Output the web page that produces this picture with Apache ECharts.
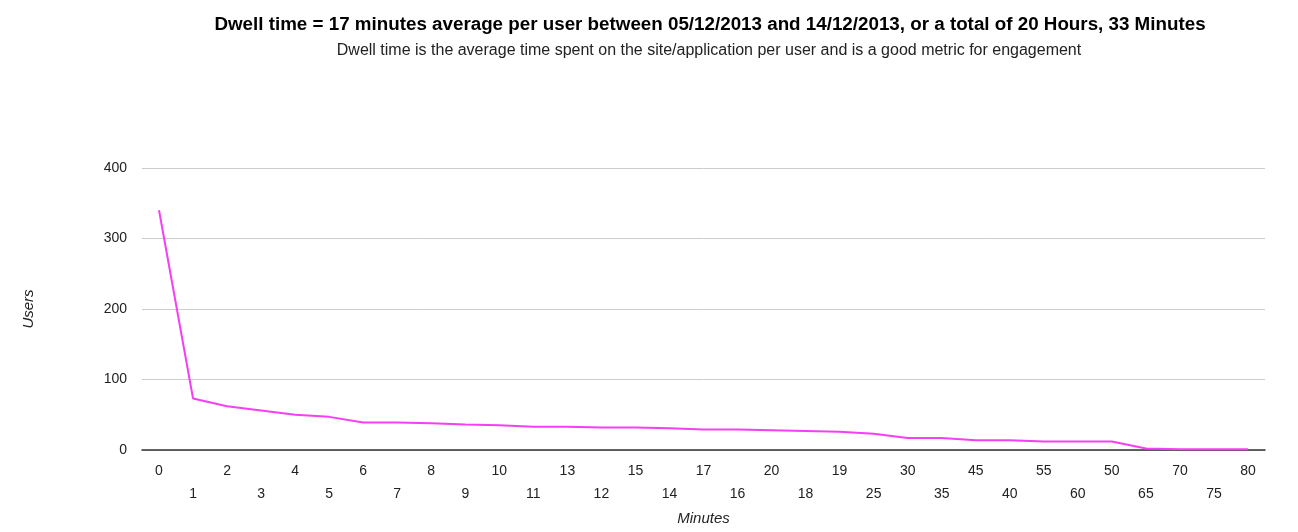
<!DOCTYPE html>
<html>
<head>
<meta charset="utf-8">
<script src="https://cdn.jsdelivr.net/npm/echarts@6/dist/echarts.min.js"></script>
<style>html,body{margin:0;padding:0;background:#fff}#c{width:1298px;height:532px}</style>
</head>
<body>
<div id="c"></div>
<script>
const titleText = 'Dwell time = 17 minutes average per user between 05/12/2013 and 14/12/2013, or a total of 20 Hours, 33 Minutes';
const subtitleText = 'Dwell time is the average time spent on the site/application per user and is a good metric for engagement';
const categories = ['0','1','2','3','4','5','6','7','8','9','10','11','13','12','15','14','17','16','20','18','19','25','30','35','45','40','55','60','50','65','70','75','80'];
const users = [340,73,62,56,50,47,39,39,38,36,35,33,33,32,32,31,29,29,28,27,26,23,17,17,14,14,12,12,12,2,1,1,1];
const yTicks = [0,100,200,300,400];

const chart = echarts.init(document.getElementById('c'));
chart.setOption({
  animation: false,
  textStyle: {fontFamily: 'Liberation Sans, Arial, sans-serif'},
  title: [
    {text: titleText, left: 705, textAlign: 'center', top: 10,
     textStyle: {fontSize: 18.8, fontWeight: 'bold', color: '#000'}},
    {text: subtitleText, left: 704, textAlign: 'center', top: 38,
     textStyle: {fontSize: 16, fontWeight: 'normal', color: '#222'}}
  ],
  grid: {left: 142, right: 33, top: 168, bottom: 82},
  xAxis: {
    type: 'category', data: categories, boundaryGap: true,
    name: 'Minutes', nameLocation: 'middle', nameGap: 60,
    nameTextStyle: {fontStyle: 'italic', fontSize: 15, color: '#222'},
    axisLine: {lineStyle: {color: '#333', width: 1.5}},
    axisTick: {show: false},
    axisLabel: {interval: 0, fontSize: 14, color: '#222', margin: 10, lineHeight: 23,
      formatter: (v, i) => (i % 2 === 1 ? '\n' + v : v)}
  },
  yAxis: {
    type: 'value', min: 0, max: 400, interval: 100,
    name: 'Users', nameLocation: 'middle', nameGap: 106, nameRotate: 90,
    nameTextStyle: {fontStyle: 'italic', fontSize: 15, color: '#222'},
    axisLine: {show: false}, axisTick: {show: false},
    axisLabel: {fontSize: 14, color: '#222', margin: 15,
      formatter: v => yTicks.includes(v) ? String(v) : ''},
    splitLine: {lineStyle: {color: '#ccc', width: 1}}
  },
  series: [{
    type: 'line', data: users, symbol: 'none',
    lineStyle: {color: '#f43ff4', width: 2}
  }]
});
</script>
</body>
</html>
